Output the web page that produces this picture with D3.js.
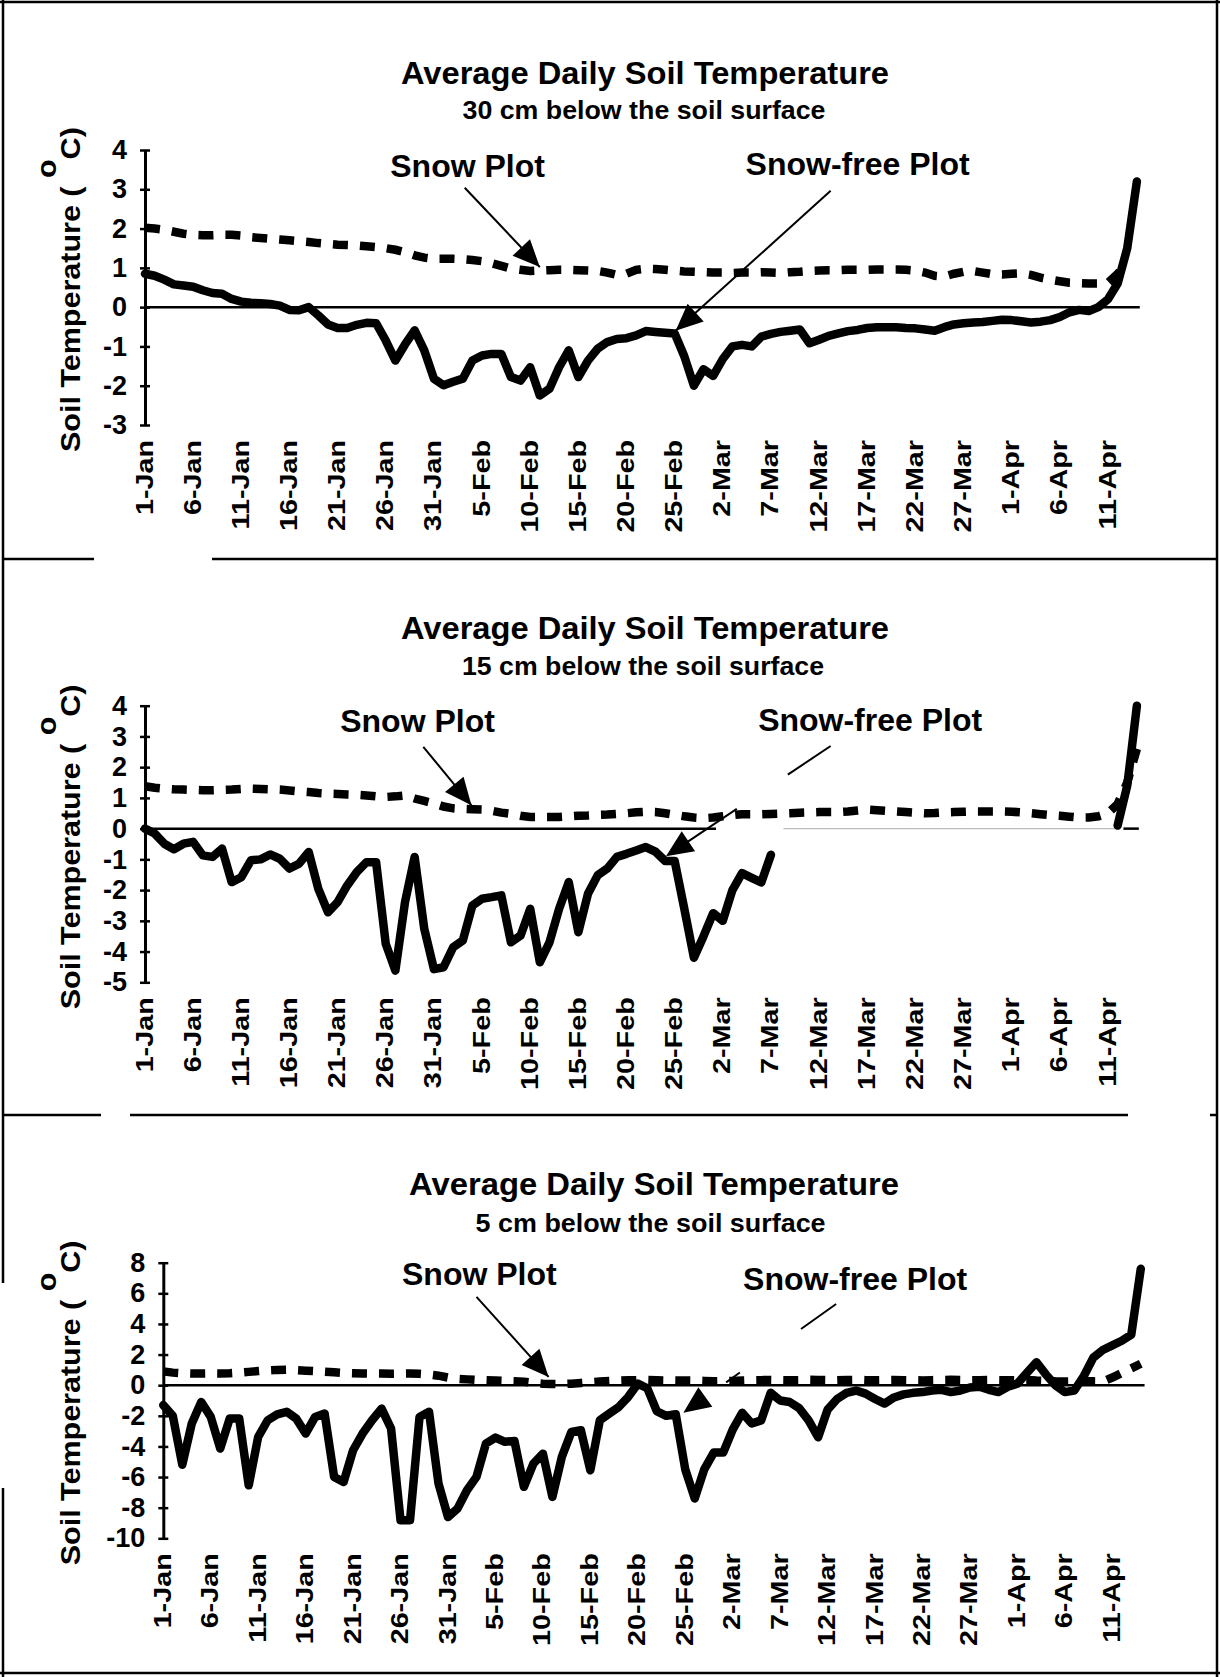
<!DOCTYPE html>
<meta charset="UTF-8">
<style>
    body { margin: 0; background: #fff; }
    svg { display: block; }
    text { font-family: "Liberation Sans", Arial, sans-serif; font-weight: bold; fill: #000; }
    .title { font-family: "Liberation Sans Narrow", "Liberation Sans", sans-serif; }
</style>
<body>
<div id="chart"></div>
<script src="https://d3js.org/d3.v7.min.js"></script>
<script>

// x axis: one label every 5 days, day 0 = 1-Jan
var tickDays = [0, 5, 10, 15, 20, 25, 30, 35, 40, 45, 50, 55, 60, 65, 70, 75, 80, 85, 90, 95, 100];
var dayLabels = ["1-Jan", "6-Jan", "11-Jan", "16-Jan", "21-Jan", "26-Jan", "31-Jan", "5-Feb", "10-Feb",
    "15-Feb", "20-Feb", "25-Feb", "2-Mar", "7-Mar", "12-Mar", "17-Mar", "22-Mar", "27-Mar", "1-Apr",
    "6-Apr", "11-Apr"];

// 30 cm depth
var snow30 = [2.02,2.00,1.97,1.92,1.87,1.84,1.83,1.83,1.84,1.84,
    1.82,1.78,1.76,1.74,1.72,1.70,1.68,1.66,1.63,1.61,
    1.59,1.58,1.57,1.55,1.53,1.50,1.46,1.40,1.32,1.26,
    1.23,1.23,1.23,1.22,1.20,1.17,1.12,1.05,0.98,0.95,
    0.92,0.93,0.94,0.95,0.95,0.94,0.93,0.92,0.88,0.82,
    0.85,0.95,0.98,0.97,0.95,0.93,0.91,0.90,0.89,0.88,
    0.88,0.87,0.88,0.88,0.89,0.88,0.87,0.89,0.90,0.92,
    0.93,0.94,0.94,0.95,0.95,0.95,0.96,0.96,0.96,0.95,
    0.93,0.88,0.80,0.78,0.85,0.90,0.92,0.88,0.84,0.83,
    0.85,0.86,0.82,0.75,0.70,0.66,0.62,0.61,0.60,0.60,
    0.62,0.85,1.10,null];
var snowFree30 = [0.85,0.80,0.70,0.58,0.55,0.52,0.43,0.36,0.34,0.21,
    0.14,0.11,0.10,0.08,0.04,-0.07,-0.08,0.00,-0.21,-0.44,
    -0.53,-0.53,-0.45,-0.40,-0.41,-0.85,-1.36,-0.95,-0.59,-1.10,
    -1.82,-1.99,-1.90,-1.82,-1.36,-1.23,-1.19,-1.19,-1.78,-1.87,
    -1.53,-2.25,-2.08,-1.53,-1.10,-1.78,-1.36,-1.06,-0.89,-0.81,
    -0.79,-0.72,-0.61,-0.63,-0.65,-0.67,-1.25,-2.00,-1.58,-1.75,
    -1.32,-1.00,-0.96,-1.00,-0.75,-0.68,-0.63,-0.60,-0.57,-0.92,
    -0.83,-0.73,-0.67,-0.61,-0.58,-0.53,-0.51,-0.51,-0.51,-0.53,
    -0.54,-0.57,-0.60,-0.51,-0.44,-0.41,-0.39,-0.38,-0.35,-0.32,
    -0.33,-0.36,-0.39,-0.37,-0.33,-0.25,-0.13,-0.07,-0.10,0.00,
    0.20,0.60,1.50,3.20];

// 15 cm depth (snow-free record has a gap in March)
var snow15 = [1.38,1.33,1.30,1.28,1.27,1.26,1.25,1.25,1.26,1.27,
    1.29,1.30,1.29,1.28,1.27,1.24,1.21,1.19,1.16,1.14,
    1.13,1.11,1.10,1.08,1.05,1.03,1.05,1.08,0.98,0.90,
    0.82,0.72,0.66,0.64,0.63,0.62,0.58,0.52,0.48,0.42,
    0.38,0.38,0.38,0.38,0.40,0.42,0.43,0.45,0.46,0.48,
    0.50,0.53,0.55,0.54,0.50,0.45,0.40,0.36,0.34,0.36,
    0.40,0.44,0.47,0.47,0.47,0.48,0.49,0.50,0.52,0.53,
    0.54,0.54,0.54,0.56,0.59,0.62,0.60,0.58,0.56,0.54,
    0.52,0.50,0.51,0.53,0.54,0.55,0.56,0.56,0.56,0.56,
    0.55,0.53,0.50,0.47,0.44,0.42,0.39,0.36,0.36,0.40,
    0.50,0.80,1.50,2.60];
var snowFree15 = [0.00,-0.16,-0.49,-0.67,-0.49,-0.43,-0.87,-0.92,-0.65,-1.74,
    -1.58,-1.03,-1.00,-0.84,-0.98,-1.30,-1.14,-0.76,-1.96,-2.72,
    -2.39,-1.85,-1.41,-1.09,-1.09,-3.75,-4.62,-2.39,-0.92,-3.26,
    -4.57,-4.51,-3.86,-3.64,-2.50,-2.28,-2.23,-2.17,-3.70,-3.48,
    -2.61,-4.35,-3.70,-2.61,-1.74,-3.37,-2.12,-1.52,-1.30,-0.92,
    -0.82,-0.71,-0.60,-0.75,-1.05,-1.05,-2.60,-4.20,-3.50,-2.75,
    -3.00,-2.00,-1.45,-1.60,-1.75,-0.85,null,null,null,null,
    null,null,null,null,null,null,null,null,null,null,
    null,null,null,null,null,null,null,null,null,null,
    null,null,null,null,null,null,null,null,null,null,
    null,0.10,1.40,4.00];

// 5 cm depth
var snow5 = [0.90,0.82,0.78,0.76,0.76,0.77,0.76,0.78,0.82,0.87,
    0.92,0.97,1.00,1.01,0.98,0.95,0.92,0.88,0.84,0.80,
    0.78,0.77,0.76,0.76,0.75,0.76,0.77,0.74,0.70,0.62,
    0.50,0.42,0.38,0.34,0.32,0.30,0.28,0.26,0.22,0.15,
    0.10,0.08,0.07,0.10,0.15,0.20,0.24,0.27,0.30,0.32,
    0.33,0.34,0.32,0.31,0.30,0.31,0.30,0.28,0.25,0.26,
    0.28,0.30,0.32,0.33,0.34,0.33,0.32,0.33,0.35,0.34,
    0.33,0.32,0.34,0.35,0.33,0.32,0.33,0.34,0.33,0.32,
    0.31,0.33,0.34,0.35,0.34,0.32,0.33,0.34,0.33,0.32,
    0.33,0.34,0.30,0.28,0.25,0.24,0.25,0.26,0.25,0.24,
    0.50,0.80,1.10,1.40];
var snowFree5 = [-1.30,-2.00,-5.20,-2.50,-1.10,-2.07,-4.14,-2.18,-2.18,-6.54,
    -3.37,-2.29,-1.90,-1.74,-2.18,-3.16,-2.07,-1.85,-5.99,-6.32,
    -4.25,-3.16,-2.29,-1.53,-2.83,-8.82,-8.82,-2.07,-1.74,-6.43,
    -8.61,-8.06,-6.86,-5.99,-3.81,-3.42,-3.70,-3.64,-6.64,-5.12,
    -4.47,-7.30,-4.68,-3.05,-2.94,-5.56,-2.29,-1.85,-1.42,-0.76,
    0.10,-0.20,-1.70,-2.00,-1.90,-5.50,-7.40,-5.50,-4.40,-4.40,
    -2.90,-1.80,-2.50,-2.30,-0.50,-1.00,-1.10,-1.50,-2.30,-3.40,
    -1.60,-0.90,-0.50,-0.35,-0.55,-0.90,-1.20,-0.80,-0.60,-0.50,
    -0.45,-0.35,-0.30,-0.45,-0.35,-0.15,-0.10,-0.30,-0.45,-0.10,
    0.10,0.80,1.50,0.70,0.00,-0.45,-0.35,0.60,1.80,2.30,
    2.60,2.90,3.30,7.60];

var yTicks30 = [-3, -2, -1, 0, 1, 2, 3, 4];
var yTicks15 = [-5, -4, -3, -2, -1, 0, 1, 2, 3, 4];
var yTicks5 = [-10, -8, -6, -4, -2, 0, 2, 4, 6, 8];

// layout of the three stacked panels (annotation anchors are in data units: [day, degC])
var panels = [
    { subtitle: "30 cm below the soil surface", snow: snow30, free: snowFree30, yTicks: yTicks30,
      yDomain: [-3, 4], top: 150, bottom: 425, x0: 145, step: 9.63,
      titleX: 645, titleY: 84, titleW: 488, subX: 644, subY: 118.5, subW: 363,
      zero: [[0, 103.3, "#000", 2.5]],
      labels: [{ text: "Snow Plot", at: [33.5, 3.31] }, { text: "Snow-free Plot", at: [74.0, 3.37] }],
      arrows: [{ from: [33.2, 3.04], to: [41.0, 1.02], parts: [[0, 1]] },
               { from: [71.2, 2.96], to: [55.1, -0.60], parts: [[0, 1]] }] },
    { subtitle: "15 cm below the soil surface", snow: snow15, free: snowFree15, yTicks: yTicks15,
      yDomain: [-5, 4], top: 705.7, bottom: 982.3, x0: 145, step: 9.63,
      titleX: 645, titleY: 639, titleW: 488, subX: 643, subY: 674.5, subW: 362,
      zero: [[0, 59.3, "#000", 2.5], [66.3, 101.1, "#bbb", 1.2], [101.6, 103.2, "#000", 2.5]],
      labels: [{ text: "Snow Plot", at: [28.3, 3.15] }, { text: "Snow-free Plot", at: [75.3, 3.19] }],
      arrows: [{ from: [28.9, 2.66], to: [33.9, 0.76], parts: [[0, 1]] },
               { from: [71.2, 2.69], to: [54.1, -0.90], parts: [[0, 0.26], [0.57, 0.91]] }] },
    { subtitle: "5 cm below the soil surface", snow: snow5, free: snowFree5, yTicks: yTicks5,
      yDomain: [-10, 8], top: 1262.7, bottom: 1538.3, x0: 163.3, step: 9.49,
      titleX: 654, titleY: 1195, titleW: 490, subX: 650.6, subY: 1231.5, subW: 350,
      zero: [[0, 103.4, "#000", 2.5]],
      labels: [{ text: "Snow Plot", at: [33.3, 6.54] }, { text: "Snow-free Plot", at: [72.9, 6.2] }],
      arrows: [{ from: [33.0, 5.77], to: [40.6, 0.54], parts: [[0, 1]] },
               { from: [70.9, 5.3], to: [54.8, -1.80], parts: [[0, 0.23], [0.63, 0.72]] }] }
];

var svg = d3.select("#chart").append("svg")
    .attr("width", 1220)
    .attr("height", 1677);

// page frame and panel separators of the scanned figure
var frame = svg.append("g").attr("stroke", "#000").attr("stroke-width", 2.5);
function hline(y, x1, x2) {
    frame.append("line").attr("x1", x1).attr("x2", x2).attr("y1", y).attr("y2", y);
}
function vline(x, y1, y2) {
    frame.append("line").attr("x1", x).attr("x2", x).attr("y1", y1).attr("y2", y2);
}
hline(2, 0, 1220);
hline(1673, 0, 1220);
vline(3, 0, 1283);
vline(3, 1488, 1677);
vline(1217, 0, 1677);
hline(559, 3, 94);
hline(559, 212, 1217);
hline(1115, 3, 101);
hline(1115, 130, 1128);
hline(1115, 1210, 1217);

panels.forEach(function(p) {

    var x = d3.scaleLinear().domain([0, 100]).range([p.x0, p.x0 + 100 * p.step]);
    var y = d3.scaleLinear().domain(p.yDomain).range([p.bottom, p.top]);
    var g = svg.append("g");

    // titles
    g.append("text")
        .attr("class", "title")
        .attr("x", p.titleX - p.titleW / 2)
        .attr("y", p.titleY)
        .attr("textLength", p.titleW)
        .attr("lengthAdjust", "spacingAndGlyphs")
        .style("font-size", "32px")
        .text("Average Daily Soil Temperature");
    g.append("text")
        .attr("class", "title")
        .attr("x", p.subX - p.subW / 2)
        .attr("y", p.subY)
        .attr("textLength", p.subW)
        .attr("lengthAdjust", "spacingAndGlyphs")
        .style("font-size", "25px")
        .text(p.subtitle);

    // y axis with ticks crossing the line, plain hyphen for minus
    var yAxis = g.append("g")
        .attr("transform", "translate(" + p.x0 + ",0)")
        .call(d3.axisLeft(y).tickValues(p.yTicks)
            .tickFormat(function(d) { return String(d); })
            .tickSize(5).tickSizeOuter(0).tickPadding(13));
    yAxis.select(".domain").attr("stroke-width", 3);
    yAxis.selectAll(".tick line").attr("x1", 5).attr("x2", -5).attr("stroke-width", 2.5);
    yAxis.selectAll(".tick text")
        .style("font-family", "'Liberation Sans', Arial, sans-serif")
        .style("font-size", "27px")
        .style("font-weight", "bold");

    // rotated date labels, no bottom axis line
    var xAxis = g.append("g")
        .attr("transform", "translate(0," + (p.bottom + 15) + ")")
        .call(d3.axisBottom(x).tickValues(tickDays)
            .tickFormat(function(d, i) { return dayLabels[i]; })
            .tickSize(0));
    xAxis.select(".domain").remove();
    xAxis.selectAll(".tick text")
        .attr("x", 0).attr("y", 0).attr("dy", 0)
        .attr("text-anchor", "end")
        .attr("transform", "translate(7,0) rotate(-90) scale(1.25,1)")
        .style("font-family", "'Liberation Sans', Arial, sans-serif")
        .style("font-size", "23px")
        .style("font-weight", "bold");

    // y axis title with raised degree "o"
    var yt = g.append("text")
        .attr("transform", "translate(80," + (p.bottom + 27) + ") rotate(-90) scale(1.09,1)")
        .style("font-size", "28px");
    yt.append("tspan").text("Soil Temperature ( ");
    yt.append("tspan").attr("dy", -24).text("o");
    yt.append("tspan").attr("dy", 24).text("C)");

    var line = d3.line()
        .defined(function(d) { return d != null; })
        .x(function(d, i) { return x(i); })
        .y(function(d) { return y(d); });

    // snow plot (dashed)
    g.append("path")
        .datum(p.snow)
        .attr("d", line)
        .attr("fill", "none")
        .attr("stroke", "#000")
        .attr("stroke-width", 8.5)
        .attr("stroke-dasharray", "15,12");

    // zero line
    p.zero.forEach(function(z) {
        g.append("line")
            .attr("x1", x(z[0])).attr("x2", x(z[1]))
            .attr("y1", y(0)).attr("y2", y(0))
            .attr("stroke", z[2])
            .attr("stroke-width", z[3]);
    });

    // snow-free plot (solid)
    g.append("path")
        .datum(p.free)
        .attr("d", line)
        .attr("fill", "none")
        .attr("stroke", "#000")
        .attr("stroke-width", 8.5)
        .attr("stroke-linejoin", "round")
        .attr("stroke-linecap", "round");

    // labels and arrows
    p.labels.forEach(function(l) {
        g.append("text")
            .attr("x", x(l.at[0]))
            .attr("y", y(l.at[1]))
            .attr("text-anchor", "middle")
            .style("font-size", "32px")
            .text(l.text);
    });

    p.arrows.forEach(function(a) {
        var x1 = x(a.from[0]), y1 = y(a.from[1]),
            x2 = x(a.to[0]), y2 = y(a.to[1]);
        var dx = x2 - x1, dy = y2 - y1,
            len = Math.sqrt(dx * dx + dy * dy),
            ux = dx / len, uy = dy / len;
        a.parts.forEach(function(s) {
            g.append("line")
                .attr("x1", x1 + dx * s[0]).attr("y1", y1 + dy * s[0])
                .attr("x2", x1 + dx * s[1]).attr("y2", y1 + dy * s[1])
                .attr("stroke", "#000")
                .attr("stroke-width", 2);
        });
        var hl = 27, hw = 12;
        var bx = x2 - ux * hl, by = y2 - uy * hl;
        g.append("path")
            .attr("d", "M" + x2 + "," + y2 +
                "L" + (bx - uy * hw) + "," + (by + ux * hw) +
                "L" + (bx + uy * hw) + "," + (by - ux * hw) + "Z")
            .attr("fill", "#000");
    });
});

</script>
</body>
